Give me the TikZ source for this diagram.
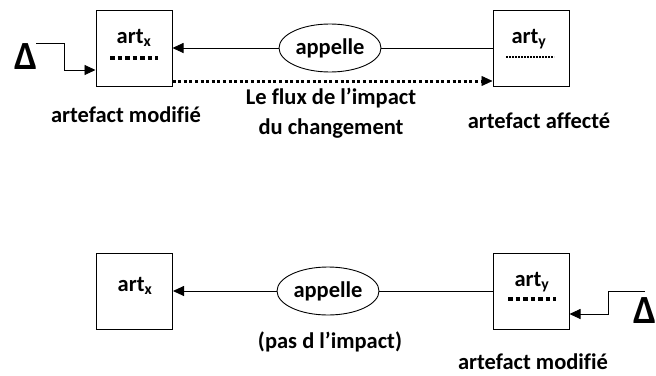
\documentclass[tikz,border=0pt]{standalone}
\usepackage{fontspec}
\setmainfont[Ligatures=NoCommon]{Carlito}
\usetikzlibrary{arrows.meta,shapes.geometric}
\begin{document}
\begin{tikzpicture}[x=1pt,y=-1pt,
  box/.style={draw,line width=1pt,minimum width=76pt,minimum height=76pt,inner sep=0pt},
  oval/.style={draw,ellipse,line width=0.9pt,minimum width=102pt,minimum height=48pt,inner sep=0pt,font=\fontsize{22.5}{26}\selectfont\bfseries},
  lbl/.style={font=\fontsize{22.5}{27}\selectfont\bfseries,inner sep=0pt},
  delta/.style={font=\fontsize{40}{44}\selectfont\bfseries,inner sep=0pt},
  conn/.style={line width=0.9pt},
  arr/.style={conn,-{Triangle[length=11pt,width=10pt]}},
  dotarr/.style={line width=3pt,dash pattern=on 3pt off 2.6pt,-{Triangle[length=11pt,width=10pt,line width=0.5pt]}},
  bigdash/.style={line width=3.5pt,dash pattern=on 4.5pt off 3pt},
  smalldot/.style={line width=1.6pt,dash pattern=on 1.6pt off 1.4pt}]
\useasboundingbox (0,0) rectangle (656,375);
% top diagram
\node[box] (bx1) at (134,48) {};
\node[box] (by1) at (531,48) {};
\node[oval] (ell1) at (330,48) {appelle};
\node[lbl] (tx1) at (134,38) {art\textsubscript{x}};
\node[lbl] (ty1) at (529,39) {art\textsubscript{y}};
\draw[bigdash] (110,58) -- (158,58);
\draw[smalldot] (506,57) -- (554,57);
\node[delta] (d1) at (26,57) {Δ};
\coordinate (p1) at (36,43);
\coordinate (p2) at (64,43);
\coordinate (p3) at (64,70);
\draw[arr] (p1) -- (p2) -- (p3) -- (bx1.west |- p3);
\draw[arr] (ell1.west) -- (bx1.east);
\draw[conn] (ell1.east) -- (by1.west);
\coordinate (dl) at (0,81);
\draw[dotarr] (bx1.east |- dl) -- (by1.west |- dl);
\node[lbl] (f1) at (331,98) {Le flux de l’impact};
\node[lbl] (f2) at (331,129) {du changement};
\node[lbl] (am1) at (126,115) {artefact modifié};
\node[lbl] (aa1) at (539,121) {artefact affecté};
% bottom diagram
\node[box] (bx2) at (134.5,291) {};
\node[box] (by2) at (531,291) {};
\node[oval] (ell2) at (328,291) {appelle};
\node[lbl] (tx2) at (135,286) {art\textsubscript{x}};
\node[lbl] (ty2) at (532,282) {art\textsubscript{y}};
\draw[bigdash] (508,299) -- (556,299);
\node[delta] (d2) at (645,311) {Δ};
\coordinate (q1) at (645,291);
\coordinate (q2) at (608,291);
\coordinate (q3) at (608,314);
\draw[arr] (q1) -- (q2) -- (q3) -- (by2.east |- q3);
\draw[arr] (ell2.west) -- (bx2.east);
\draw[conn] (ell2.east) -- (by2.west);
\node[lbl] (pi) at (330,342) {(pas d l’impact)};
\node[lbl] (am2) at (533,362) {artefact modifié};
\end{tikzpicture}
\end{document}
